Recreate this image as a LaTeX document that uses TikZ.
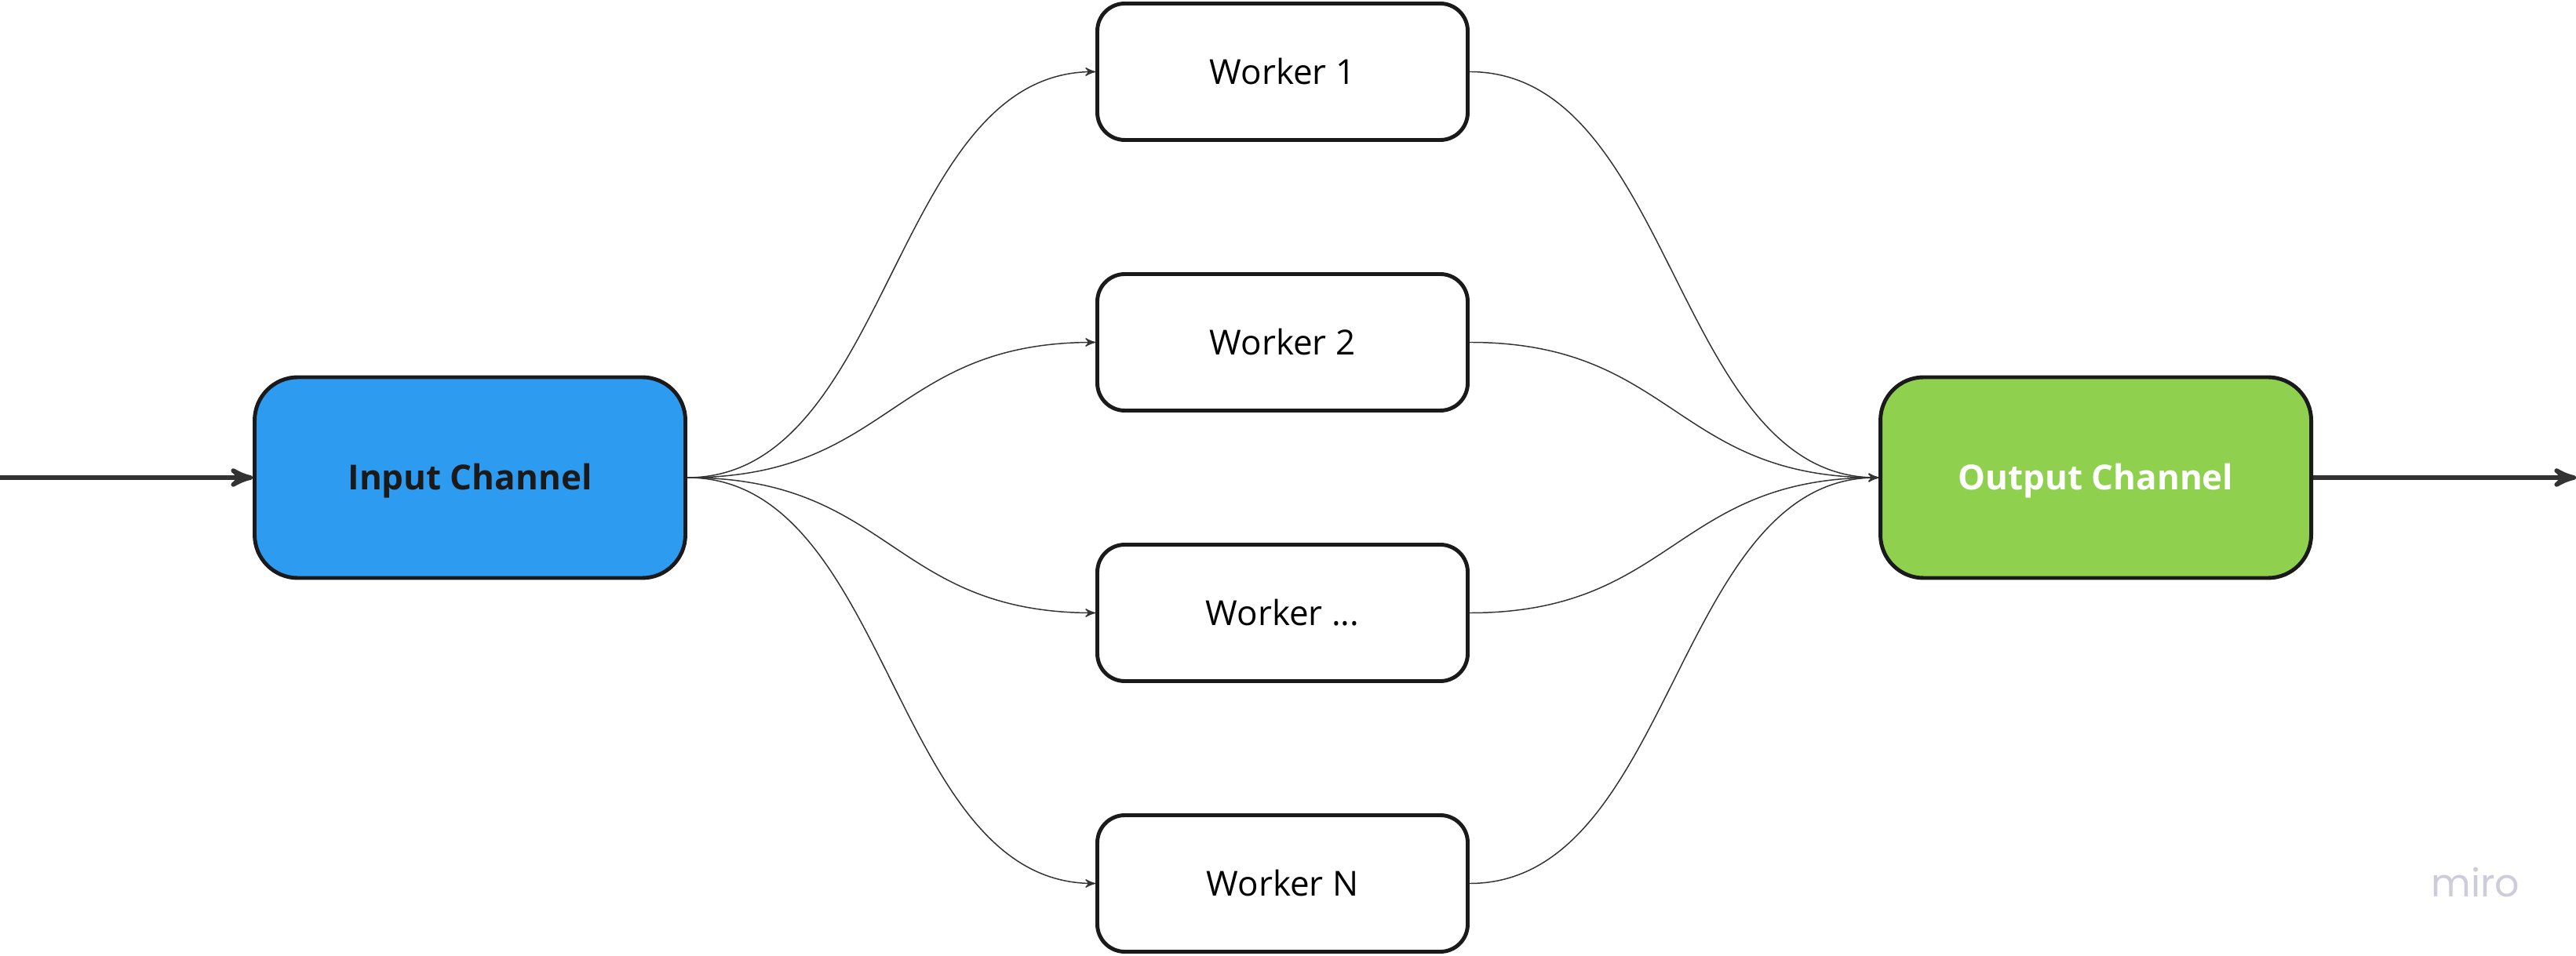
\documentclass[tikz,border=0pt]{standalone}
\usepackage{fontspec}
\setmainfont{Open Sans}
\newfontfamily\logofont{Poppins}
\usepackage{tikz}
\usetikzlibrary{arrows}
\usetikzlibrary{positioning}

\definecolor{inblue}{HTML}{2D9BF0}
\definecolor{outgreen}{HTML}{8FD14F}
\definecolor{edgegray}{HTML}{333333}
\definecolor{boxline}{HTML}{1A1A1A}
\definecolor{mirogray}{HTML}{CDCCDB}

\begin{document}
\begin{tikzpicture}[>=stealth', every node/.append style={on grid},
                    channel/.style={draw=boxline,line width=1.4pt,rounded corners=0.55cm,minimum width=5.49cm,minimum height=2.56cm,
                                    text height=8.9pt,text depth=0pt,font=\fontsize{12.5}{15}\selectfont\bfseries},
                    worker/.style={draw=boxline,fill=white,line width=1.4pt,rounded corners=0.35cm,minimum width=4.72cm,minimum height=1.74cm,
                                   text height=8.9pt,text depth=0pt,font=\fontsize{12.5}{15}\selectfont},
                    feed/.style={->,draw=edgegray,line width=0.42pt,to path={.. controls +(2.6,0) and +(-2.6,0) .. (\tikztotarget)}},
                    pipe/.style={->,draw=edgegray,line width=1.65pt}]

\useasboundingbox (0,0) rectangle (32.83,12.18);

\node[channel,fill=inblue,text=boxline] (in) at (5.99,6.09) {Input Channel};
\node[worker,above right=1.725cm and 10.355cm of in] (w2) {Worker 2};
\node[worker,above=3.45cm of w2] (w1) {Worker 1};
\node[worker,below=3.45cm of w2] (w3) {Worker ...};
\node[worker,below=3.45cm of w3] (wN) {Worker N};
\node[channel,fill=outgreen,text=white,right=20.72cm of in] (out) {Output Channel};
\node[text=mirogray,font=\logofont\fontsize{14}{16}\selectfont] (logo) at (31.55,0.93) {miro};

\coordinate (src) at (0,6.09);
\coordinate (snk) at (32.83,6.09);

\draw[pipe] (src) -- (in);
\draw[pipe] (out) -- (snk);

\draw[feed] (in.east) to (w1.west);
\draw[feed] (in.east) to (w2.west);
\draw[feed] (in.east) to (w3.west);
\draw[feed] (in.east) to (wN.west);
\draw[feed] (w1.east) to (out.west);
\draw[feed] (w2.east) to (out.west);
\draw[feed] (w3.east) to (out.west);
\draw[feed] (wN.east) to (out.west);

\end{tikzpicture}
\end{document}
